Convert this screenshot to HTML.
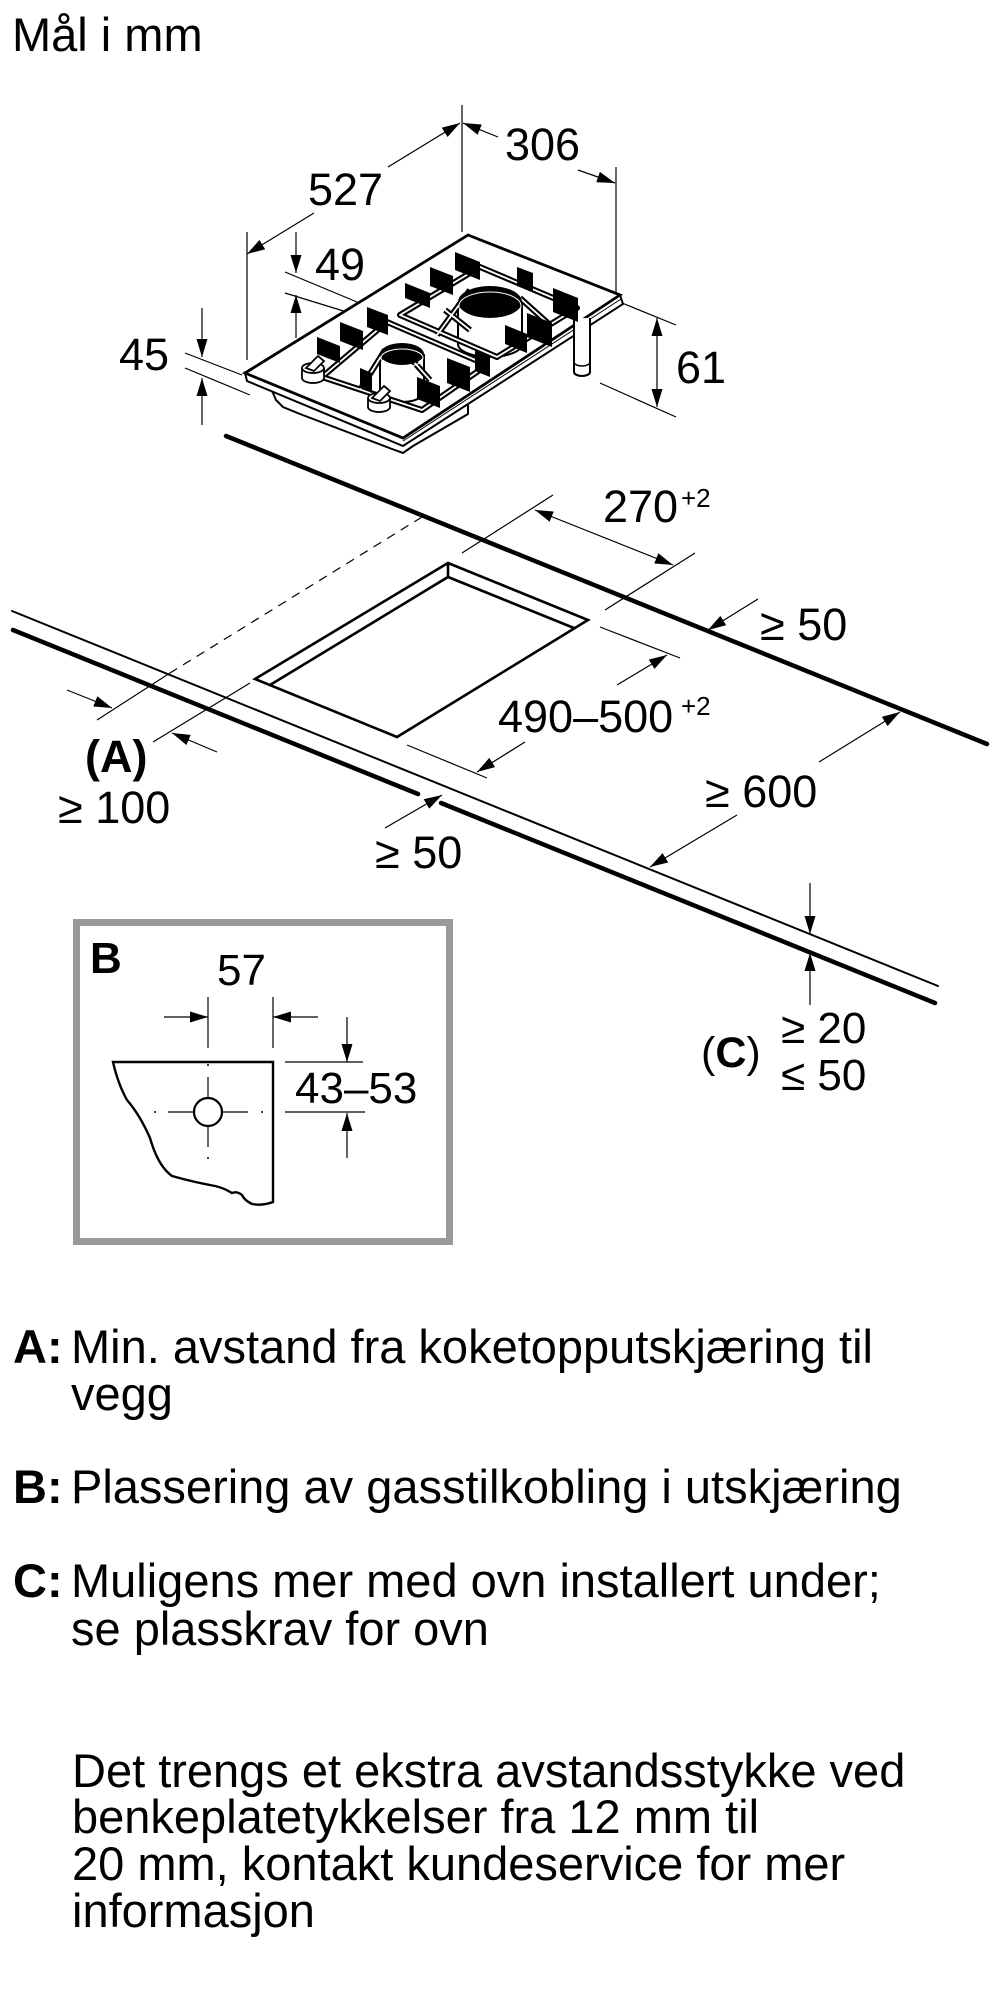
<!DOCTYPE html>
<html>
<head>
<meta charset="utf-8">
<style>
html,body{margin:0;padding:0;background:#fff;}
svg{display:block;}
text{font-family:"Liberation Sans",Arial,sans-serif;fill:#000;}
.b{font-weight:bold;}
</style>
</head>
<body>
<svg width="1000" height="2000" viewBox="0 0 1000 2000" xmlns="http://www.w3.org/2000/svg">
<defs>
<marker id="ah" markerWidth="18" markerHeight="11" refX="18" refY="5.5" orient="auto" markerUnits="userSpaceOnUse">
<path d="M0,0 L18,5.5 L0,11 z" fill="#000"/>
</marker>
<marker id="as" markerWidth="18" markerHeight="11" refX="18" refY="5.5" orient="auto-start-reverse" markerUnits="userSpaceOnUse">
<path d="M0,0 L18,5.5 L0,11 z" fill="#000"/>
</marker>
</defs>

<!-- Title -->
<text x="12" y="51" font-size="47">Mål i mm</text>

<!-- ===== HOB ===== -->
<g stroke="#000" stroke-width="1.2" fill="none">
  <line x1="462" y1="105" x2="462" y2="232"/>
  <line x1="247" y1="232" x2="247" y2="360"/>
  <line x1="616" y1="167" x2="616" y2="297"/>
  <line x1="285" y1="272" x2="357" y2="302"/>
  <line x1="285" y1="293" x2="363" y2="317"/>
  <line x1="185" y1="353" x2="242" y2="375"/>
  <line x1="185" y1="368" x2="250" y2="395"/>
  <line x1="622" y1="303" x2="676" y2="325"/>
  <line x1="600" y1="383" x2="676" y2="417"/>
  <line x1="388" y1="167" x2="460" y2="123" marker-end="url(#ah)"/>
  <line x1="314" y1="213" x2="247" y2="254" marker-end="url(#ah)"/>
  <line x1="498" y1="137" x2="463" y2="123" marker-end="url(#ah)"/>
  <line x1="578" y1="170" x2="615" y2="183" marker-end="url(#ah)"/>
  <line x1="296" y1="232" x2="296" y2="273" marker-end="url(#ah)"/>
  <line x1="296" y1="338" x2="296" y2="295" marker-end="url(#ah)"/>
  <line x1="202" y1="308" x2="202" y2="357" marker-end="url(#ah)"/>
  <line x1="202" y1="425" x2="202" y2="378" marker-end="url(#ah)"/>
  <line x1="657" y1="318" x2="657" y2="407" marker-start="url(#as)" marker-end="url(#as)"/>
</g>

<!-- tray under plate -->
<path d="M270,386 L276,400 L283,407 L300,414 L392,449 L403,453 L413,446 L468,414 L468,404 Z" fill="#fff" stroke="#000" stroke-width="2"/>
<!-- plate thickness -->
<path d="M245,373 L403,438 L620,295 L623,304 L403,446 L247,381 Z" fill="#fff" stroke="#000" stroke-width="2"/>
<line x1="403" y1="441" x2="621" y2="299" stroke="#000" stroke-width="1"/>
<!-- plate top -->
<path d="M468,235 L620,295 L403,438 L245,373 Z" fill="#fff" stroke="#000" stroke-width="2.8"/>

<!-- gas pipe -->
<path d="M574,318 L574,372 A8,4 0 0 0 590,372 L590,318" fill="#fff" stroke="#000" stroke-width="2"/>
<path d="M574,362 A8,4 0 0 0 590,362" fill="none" stroke="#000" stroke-width="1.5"/>

<!-- burner bodies -->
<path d="M458,302 L458,344 A32,13 0 0 0 522,344 L522,302" fill="#fff" stroke="#000" stroke-width="2"/>
<path d="M380,354 L380,392 A22,10 0 0 0 424,392 L424,354" fill="#fff" stroke="#000" stroke-width="2"/>

<!-- grate frames (double lines) -->
<g fill="none" stroke-linejoin="round">
  <path d="M480,267 L577,308 L497,357 L400,315 Z M437,335 L470,290 M520,298 L550,325 M445,310 L470,330" stroke="#000" stroke-width="6"/>
  <path d="M480,267 L577,308 L497,357 L400,315 Z M437,335 L470,290 M520,298 L550,325 M445,310 L470,330" stroke="#fff" stroke-width="1.8"/>
  <path d="M387,322 L487,365 L422,410 L322,377 Z M360,390 L385,350 M405,352 L430,380" stroke="#000" stroke-width="6"/>
  <path d="M387,322 L487,365 L422,410 L322,377 Z M360,390 L385,350 M405,352 L430,380" stroke="#fff" stroke-width="1.8"/>
</g>

<!-- burner caps -->
<ellipse cx="490" cy="302" rx="32" ry="16" fill="#000"/>
<ellipse cx="490" cy="306" rx="31" ry="14" fill="none" stroke="#fff" stroke-width="1"/>
<ellipse cx="402" cy="354" rx="22" ry="11" fill="#000"/>
<ellipse cx="402" cy="358" rx="21" ry="9" fill="none" stroke="#fff" stroke-width="1"/>

<!-- fins -->
<g fill="#000">
  <path d="M455,252 L480,262 L480,280 L455,270 Z"/>
  <path d="M430,267 L453,276 L453,295 L430,286 Z"/>
  <path d="M405,283 L430,293 L430,308 L405,298 Z"/>
  <path d="M367,307 L388,315 L388,335 L367,327 Z"/>
  <path d="M340,322 L363,331 L363,350 L340,341 Z"/>
  <path d="M317,337 L340,346 L340,363 L317,354 Z"/>
  <path d="M553,288 L578,298 L578,322 L553,312 Z"/>
  <path d="M517,267 L533,273 L533,292 L517,286 Z"/>
  <path d="M527,313 L552,323 L552,347 L527,337 Z"/>
  <path d="M505,325 L527,334 L527,353 L505,344 Z"/>
  <path d="M475,350 L490,356 L490,377 L475,371 Z"/>
  <path d="M447,358 L470,367 L470,392 L447,383 Z"/>
  <path d="M417,377 L440,386 L440,408 L417,399 Z"/>
  <path d="M360,368 L372,373 L372,393 L360,388 Z"/>
</g>

<!-- knobs -->
<g fill="#fff" stroke="#000" stroke-width="1.8">
  <path d="M302,368 L302,378 A11,5 0 0 0 324,378 L324,368"/>
  <ellipse cx="313" cy="368" rx="11" ry="5"/>
  <path d="M306,368 L318,356 L324,361 L314,371 Z"/>
  <path d="M368,398 L368,407 A11,5 0 0 0 390,407 L390,398"/>
  <ellipse cx="379" cy="398" rx="11" ry="5"/>
  <path d="M372,398 L384,386 L390,391 L380,401 Z"/>
</g>

<!-- hob labels -->
<g font-size="45">
  <text x="505" y="160">306</text>
  <text x="308" y="205">527</text>
  <text x="315" y="280">49</text>
  <text x="119" y="370">45</text>
  <text x="676" y="383">61</text>
</g>

<!-- ===== COUNTERTOP ===== -->
<g stroke="#000" fill="none" stroke-linecap="round">
  <line x1="226" y1="436" x2="987" y2="744" stroke-width="4.5"/>
  <line x1="12" y1="611" x2="938" y2="986" stroke-width="2"/>
  <line x1="13" y1="630" x2="418" y2="794" stroke-width="4.5"/>
  <line x1="441" y1="803" x2="935" y2="1003" stroke-width="4.5"/>
</g>
<line x1="422" y1="517" x2="170" y2="673" stroke="#000" stroke-width="1.2" stroke-dasharray="9,7"/>
<g stroke="#000" stroke-width="1.2" fill="none">
  <line x1="170" y1="673" x2="97" y2="720"/>
  <line x1="250" y1="683" x2="153" y2="742"/>
  <line x1="462" y1="553" x2="553" y2="495"/>
  <line x1="605" y1="610" x2="695" y2="553"/>
  <line x1="600" y1="627" x2="680" y2="658"/>
  <line x1="407" y1="745" x2="487" y2="778"/>
  <line x1="535" y1="510" x2="673" y2="565" marker-start="url(#as)" marker-end="url(#as)"/>
  <line x1="758" y1="599" x2="708" y2="630" marker-end="url(#ah)"/>
  <line x1="617" y1="685" x2="667" y2="655" marker-end="url(#ah)"/>
  <line x1="525" y1="742" x2="477" y2="772" marker-end="url(#ah)"/>
  <line x1="819" y1="762" x2="900" y2="712" marker-end="url(#ah)"/>
  <line x1="737" y1="815" x2="650" y2="867" marker-end="url(#ah)"/>
  <line x1="385" y1="828" x2="442" y2="795" marker-end="url(#ah)"/>
  <line x1="67" y1="690" x2="112" y2="708" marker-end="url(#ah)"/>
  <line x1="217" y1="752" x2="172" y2="733" marker-end="url(#ah)"/>
  <line x1="810" y1="883" x2="810" y2="934" marker-end="url(#ah)"/>
  <line x1="810" y1="1005" x2="810" y2="953" marker-end="url(#ah)"/>
</g>
<g stroke="#000" stroke-width="2.6" fill="none">
  <path d="M255,679 L448,563 L588,620 L397,737 Z"/>
  <path d="M270,685 L448,577 L574,628"/>
  <line x1="448" y1="563" x2="448" y2="577"/>
</g>

<g font-size="45">
  <text x="603" y="522">270</text>
  <text x="681" y="507" font-size="26">+2</text>
  <text x="760" y="640">≥ 50</text>
  <text x="498" y="732">490–500</text>
  <text x="681" y="715" font-size="26">+2</text>
  <text x="705" y="807">≥ 600</text>
  <text x="85" y="772" class="b" font-size="45">(A)</text>
  <text x="58" y="823">≥ 100</text>
  <text x="375" y="868">≥ 50</text>
  <text x="701" y="1067" font-size="43">(<tspan class="b">C</tspan>)</text>
  <text x="781" y="1043" font-size="44">≥ 20</text>
  <text x="781" y="1090" font-size="44">≤ 50</text>
</g>

<!-- ===== BOX B ===== -->
<rect x="76.5" y="922.5" width="373" height="319" fill="none" stroke="#999" stroke-width="7"/>
<text x="90" y="973" class="b" font-size="44">B</text>
<text x="217" y="985" font-size="44">57</text>
<text x="295" y="1103" font-size="44">43–53</text>
<g stroke="#000" stroke-width="1.2" fill="none">
  <line x1="208" y1="997" x2="208" y2="1048"/>
  <line x1="273" y1="997" x2="273" y2="1048"/>
  <line x1="285" y1="1062" x2="363" y2="1062"/>
  <line x1="285" y1="1112" x2="365" y2="1112"/>
  <line x1="164" y1="1017" x2="208" y2="1017" marker-end="url(#ah)"/>
  <line x1="318" y1="1017" x2="273" y2="1017" marker-end="url(#ah)"/>
  <line x1="347" y1="1017" x2="347" y2="1062" marker-end="url(#ah)"/>
  <line x1="347" y1="1158" x2="347" y2="1113" marker-end="url(#ah)"/>
  <line x1="168" y1="1112" x2="248" y2="1112"/>
  <line x1="208" y1="1077" x2="208" y2="1147"/>
</g>
<path d="M113,1062 L273,1062 L273,1202 Q262,1206 252,1204 Q244,1200 242,1195 Q237,1191 232,1193 Q224,1188 215,1186 Q193,1182 172,1176 Q158,1166 150,1138 Q140,1115 127,1100 Q118,1084 113,1062 Z" fill="none" stroke="#000" stroke-width="2.4"/>
<circle cx="208" cy="1112" r="14" fill="#fff" stroke="#000" stroke-width="2.2"/>
<g fill="#000">
  <circle cx="155" cy="1112" r="1"/>
  <circle cx="262" cy="1112" r="1"/>
  <circle cx="208" cy="1065" r="1"/>
  <circle cx="208" cy="1158" r="1"/>
</g>

<!-- ===== LEGEND TEXT ===== -->
<g font-size="47">
  <text x="13" y="1363" class="b">A:</text>
  <text x="71" y="1363">Min. avstand fra koketopputskjæring til</text>
  <text x="71" y="1410">vegg</text>
  <text x="13" y="1503" class="b">B:</text>
  <text x="71" y="1503">Plassering av gasstilkobling i utskjæring</text>
  <text x="13" y="1597" class="b">C:</text>
  <text x="71" y="1597">Muligens mer med ovn installert under;</text>
  <text x="71" y="1645">se plasskrav for ovn</text>
  <text x="72" y="1787">Det trengs et ekstra avstandsstykke ved</text>
  <text x="72" y="1833">benkeplatetykkelser fra 12 mm til</text>
  <text x="72" y="1880">20 mm, kontakt kundeservice for mer</text>
  <text x="72" y="1927">informasjon</text>
</g>
</svg>
</body>
</html>
